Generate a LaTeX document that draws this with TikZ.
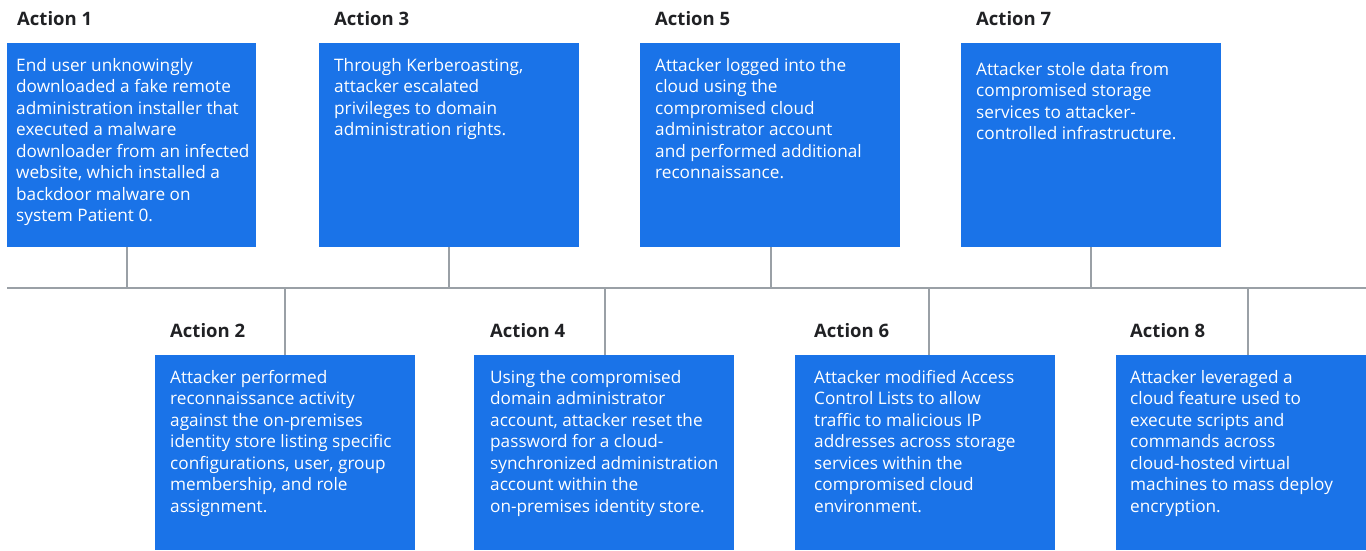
\documentclass[tikz,border=0pt]{standalone}
\usepackage{fontspec}
\setmainfont{Open Sans}
\usetikzlibrary{calc}
\definecolor{gblue}{HTML}{1A73E8}
\definecolor{ggray}{HTML}{9AA0A6}
\definecolor{gtext}{HTML}{202124}
\begin{document}
\begin{tikzpicture}[x=1pt,y=-1pt,
  actbox/.style={fill=gblue,draw=none,inner sep=0pt,anchor=north west},
  bodytext/.style={anchor=north west,inner sep=0pt,text=white,align=left,
    font=\fontsize{17.2}{21.5}\selectfont},
  titletext/.style={anchor=base west,inner sep=0pt,text=gtext,
    font=\bfseries\fontsize{18.5}{22}\selectfont},
  tline/.style={draw=ggray,line width=2pt}]
\useasboundingbox (0,0) rectangle (1366,550);
% boxes
\node[actbox,minimum width=249pt,minimum height=204pt] (b1) at (7,43) {};
\node[actbox,minimum width=260pt,minimum height=204pt] (b3) at (319,43) {};
\node[actbox,minimum width=260pt,minimum height=204pt] (b5) at (640,43) {};
\node[actbox,minimum width=260pt,minimum height=204pt] (b7) at (961,43) {};
\node[actbox,minimum width=260pt,minimum height=195pt] (b2) at (155,355) {};
\node[actbox,minimum width=260pt,minimum height=195pt] (b4) at (474,355) {};
\node[actbox,minimum width=260pt,minimum height=195pt] (b6) at (795,355) {};
\node[actbox,minimum width=250pt,minimum height=195pt] (b8) at (1116,355) {};
% titles
\node[titletext] (t1) at (17,25) {Action 1};
\node[titletext] (t3) at (334,25) {Action 3};
\node[titletext] (t5) at (655,25) {Action 5};
\node[titletext] (t7) at (976,25) {Action 7};
\node[titletext] (t2) at (170,337) {Action 2};
\node[titletext] (t4) at (490,337) {Action 4};
\node[titletext] (t6) at (814,337) {Action 6};
\node[titletext] (t8) at (1130,337) {Action 8};
% body texts (top = baseline - 14)
\node[bodytext] (x1) at (16,57) {\rule{0pt}{14pt}End user unknowingly\\downloaded a fake remote\\administration installer that\\executed a malware\\downloader from an infected\\website, which installed a\\backdoor malware on\\system Patient 0.};
\node[bodytext] (x3) at (334,57) {\rule{0pt}{14pt}Through Kerberoasting,\\attacker escalated\\privileges to domain\\administration rights.};
\node[bodytext] (x5) at (655,57) {\rule{0pt}{14pt}Attacker logged into the\\cloud using the\\compromised cloud\\administrator account\\and performed additional\\reconnaissance.};
\node[bodytext] (x7) at (976,61) {\rule{0pt}{14pt}Attacker stole data from\\compromised storage\\services to attacker-\\controlled infrastructure.};
\node[bodytext] (x2) at (170,369) {\rule{0pt}{14pt}Attacker performed\\reconnaissance activity\\against the on-premises\\identity store listing specific\\configurations, user, group\\membership, and role\\assignment.};
\node[bodytext] (x4) at (490,369) {\rule{0pt}{14pt}Using the compromised\\domain administrator\\account, attacker reset the\\password for a cloud-\\synchronized administration\\account within the\\on-premises identity store.};
\node[bodytext] (x6) at (814,369) {\rule{0pt}{14pt}Attacker modified Access\\Control Lists to allow\\traffic to malicious IP\\addresses across storage\\services within the\\compromised cloud\\environment.};
\node[bodytext] (x8) at (1130,369) {\rule{0pt}{14pt}Attacker leveraged a\\cloud feature used to\\execute scripts and\\commands across\\cloud-hosted virtual\\machines to mass deploy\\encryption.};
% timeline
\coordinate (tl) at (7,288);
\coordinate (tr) at (1366,288);
\draw[tline] (tl) -- (tr);
\coordinate (c1) at (127,288);
\coordinate (c3) at (449,288);
\coordinate (c5) at (770.5,288);
\coordinate (c7) at (1091,288);
\coordinate (c2) at (285,288);
\coordinate (c4) at (605,288);
\coordinate (c6) at (929,288);
\coordinate (c8) at (1248,288);
\draw[tline] (c1) -- (c1 |- b1.south);
\draw[tline] (c3) -- (c3 |- b3.south);
\draw[tline] (c5) -- (c5 |- b5.south);
\draw[tline] (c7) -- (c7 |- b7.south);
\draw[tline] (c2) -- (c2 |- b2.north);
\draw[tline] (c4) -- (c4 |- b4.north);
\draw[tline] (c6) -- (c6 |- b6.north);
\draw[tline] (c8) -- (c8 |- b8.north);
\end{tikzpicture}
\end{document}
